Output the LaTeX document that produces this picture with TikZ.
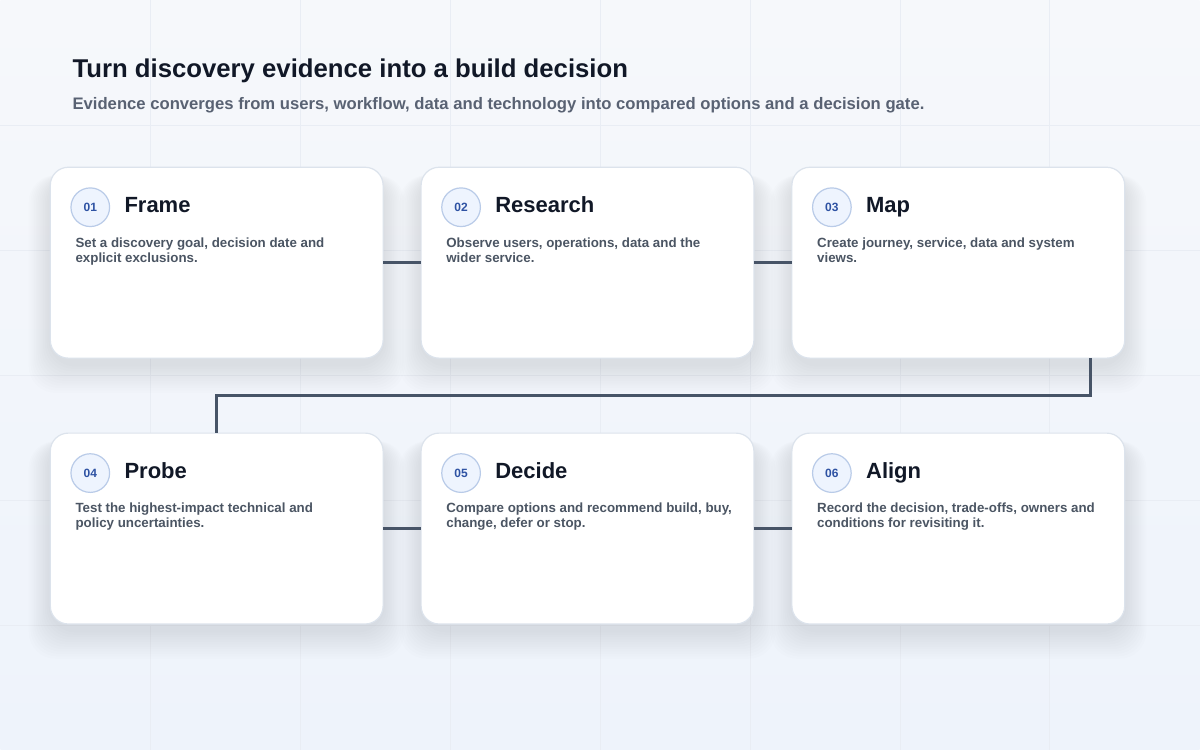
\documentclass[tikz,border=0pt]{standalone}
\usepackage{fontspec}
\setmainfont{Liberation Sans}
\usetikzlibrary{positioning}

\definecolor{bgtop}{HTML}{F6F8FB}
\definecolor{bgbot}{HTML}{EEF3FB}
\definecolor{gridc}{HTML}{E9EDF4}
\definecolor{inkdark}{HTML}{111827}
\definecolor{inkgray}{HTML}{596273}
\definecolor{inkdesc}{HTML}{4B5563}
\definecolor{cardline}{HTML}{DCE3EC}
\definecolor{badgefill}{HTML}{EEF4FE}
\definecolor{badgeline}{HTML}{B9CBE8}
\definecolor{badgeink}{HTML}{2E52A3}
\definecolor{linkc}{HTML}{475467}
\definecolor{shadowc}{HTML}{2A3A5C}

\pgfdeclarelayer{background}
\pgfdeclarelayer{shadow}
\pgfsetlayers{background,shadow,main}

\begin{document}
\begin{tikzpicture}[
    x=0.75pt, y=-0.75pt,
    % card boxes
    card/.style={
        draw=cardline,
        line width=0.9pt,
        fill=white,
        rounded corners=13.5pt,
        minimum width=249.75pt,
        minimum height=143.25pt,
        inner sep=0pt,
        outer sep=0pt
    },
    % number badge
    badge/.style={
        circle,
        draw=badgeline,
        line width=0.9pt,
        fill=badgefill,
        minimum size=29pt,
        inner sep=0pt,
        font=\bfseries\fontsize{9}{10}\selectfont,
        text=badgeink
    },
    % card heading
    cardtitle/.style={
        anchor=base west,
        inner sep=0pt,
        font=\bfseries\fontsize{16.5}{19}\selectfont,
        text=inkdark
    },
    % card text
    cardtext/.style={
        anchor=north west,
        inner sep=0pt,
        align=left,
        font=\bfseries\fontsize{10}{11.25}\selectfont,
        text=inkdesc
    },
    % connector
    link/.style={
        draw=linkc,
        line width=2.4pt
    }
]

    % --- background ---
    \begin{pgfonlayer}{background}
    \shade[top color=bgtop, bottom color=bgbot] (0,0) rectangle (1200,750);
    \foreach \gx in {150,300,...,1050}
        \draw[gridc, line width=0.5pt] (\gx,0) -- (\gx,750);
    \foreach \gy in {125,250,...,625}
        \draw[gridc, line width=0.5pt] (0,\gy) -- (1200,\gy);
    \end{pgfonlayer}
    \useasboundingbox (0,0) rectangle (1200,750);

    % --- heading ---
    \node[anchor=base west, inner sep=0pt, font=\bfseries\fontsize{19.3}{23}\selectfont, text=inkdark] (title) at (72,77) {Turn discovery evidence into a build decision};
    \node[anchor=base west, inner sep=0pt, font=\bfseries\fontsize{12.5}{14}\selectfont, text=inkgray] (subtitle) at (72,109) {Evidence converges from users, workflow, data and technology into compared options and a decision gate.};

    % --- cards ---
    \node[card, anchor=north west] (frame) at (50,167) {};
    \node[card, right=28.5pt of frame] (research) {};
    \node[card, right=28.5pt of research] (map) {};
    \node[card, below=56.25pt of frame] (probe) {};
    \node[card, right=28.5pt of probe] (decide) {};
    \node[card, right=28.5pt of decide] (align) {};

    % --- soft shadows ---
    \begin{pgfonlayer}{shadow}
    \foreach \c in {frame,research,map,probe,decide,align}
        \foreach \s in {1,...,12}
            \fill[shadowc, opacity=0.009, rounded corners=20pt]
                ([shift={(-\s*1.8,8)}]\c.north west) rectangle ([shift={(\s*1.8,6+\s*2.4)}]\c.south east);
    \end{pgfonlayer}

    % --- card contents ---
    \node[badge] (n1) at ([shift={(40,40)}]frame.north west) {01};
    \node[cardtitle] (t1) at ([shift={(74,45)}]frame.north west) {Frame};
    \node[cardtext] (d1) at ([shift={(25,70)}]frame.north west) {Set a discovery goal, decision date and\\explicit exclusions.};

    \node[badge] (n2) at ([shift={(40,40)}]research.north west) {02};
    \node[cardtitle] (t2) at ([shift={(74,45)}]research.north west) {Research};
    \node[cardtext] (d2) at ([shift={(25,70)}]research.north west) {Observe users, operations, data and the\\wider service.};

    \node[badge] (n3) at ([shift={(40,40)}]map.north west) {03};
    \node[cardtitle] (t3) at ([shift={(74,45)}]map.north west) {Map};
    \node[cardtext] (d3) at ([shift={(25,70)}]map.north west) {Create journey, service, data and system\\views.};

    \node[badge] (n4) at ([shift={(40,40)}]probe.north west) {04};
    \node[cardtitle] (t4) at ([shift={(74,45)}]probe.north west) {Probe};
    \node[cardtext] (d4) at ([shift={(25,70)}]probe.north west) {Test the highest-impact technical and\\policy uncertainties.};

    \node[badge] (n5) at ([shift={(40,40)}]decide.north west) {05};
    \node[cardtitle] (t5) at ([shift={(74,45)}]decide.north west) {Decide};
    \node[cardtext] (d5) at ([shift={(25,70)}]decide.north west) {Compare options and recommend build, buy,\\change, defer or stop.};

    \node[badge] (n6) at ([shift={(40,40)}]align.north west) {06};
    \node[cardtitle] (t6) at ([shift={(74,45)}]align.north west) {Align};
    \node[cardtext] (d6) at ([shift={(25,70)}]align.north west) {Record the decision, trade-offs, owners and\\conditions for revisiting it.};

    % --- connectors ---
    \draw[link] (frame) -- (research);
    \draw[link] (research) -- (map);
    \draw[link] ([xshift=-34*0.75pt]map.south east) -- ++(0,37.5) -| (probe.north);
    \draw[link] (probe) -- (decide);
    \draw[link] (decide) -- (align);

\end{tikzpicture}
\end{document}
